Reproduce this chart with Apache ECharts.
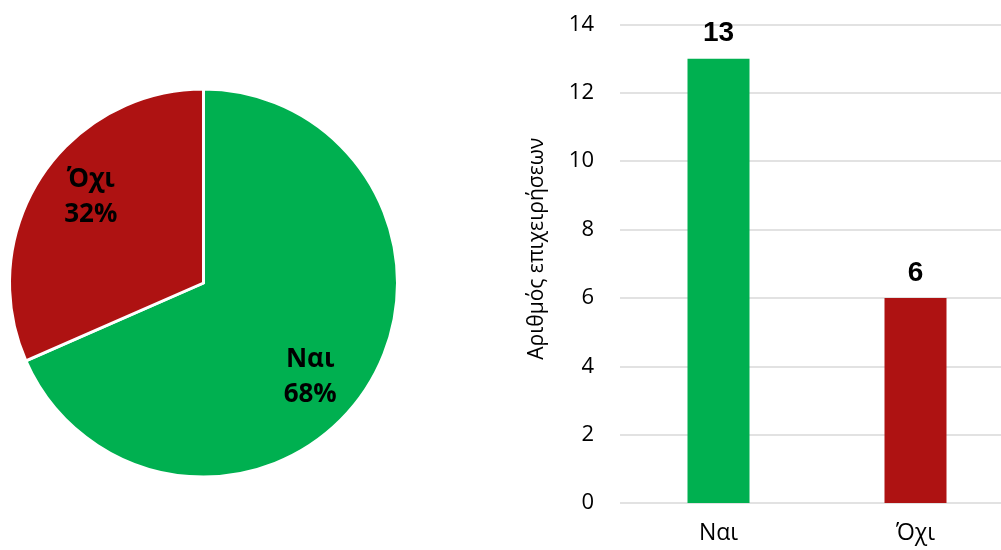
<!DOCTYPE html>
<html>
<head>
<meta charset="utf-8">
<script src="https://cdn.jsdelivr.net/npm/echarts@6/dist/echarts.min.js"></script>
<style>
  html, body { margin: 0; padding: 0; background: #fff; overflow: hidden; }
  /* the plot area runs a little past the right edge of the page */
  #chart { width: 1020px; height: 550px; }
</style>
</head>
<body>
<div id="chart"></div>
<script>
// Answers and number of businesses per answer
const categories = ['Ναι', 'Όχι'];
const counts = [13, 6];
const colors = ['#00B050', '#AE1212'];
const yTicks = [0, 2, 4, 6, 8, 10, 12, 14];
const yAxisTitle = 'Αριθμός επιχειρήσεων';

// Nudges for the in-slice labels
const pieLabelOffsets = [[23, 39], [-29, -31]];

const chart = echarts.init(document.getElementById('chart'), null, { renderer: 'canvas' });

const pieData = categories.map((name, i) => ({
  name: name,
  value: counts[i],
  itemStyle: { color: colors[i] },
  label: { offset: pieLabelOffsets[i] }
}));

const barData = counts.map((v, i) => ({
  value: v,
  itemStyle: { color: colors[i] }
}));

chart.setOption({
  backgroundColor: '#ffffff',
  animation: false,
  grid: { left: 620, top: 24.5, width: 394, height: 478.5, containLabel: false },
  xAxis: {
    type: 'category',
    data: categories,
    axisLine: { show: false },
    axisTick: { show: false },
    axisLabel: { color: '#000', fontFamily: 'Open Sans', fontSize: 23, margin: 19 }
  },
  yAxis: {
    type: 'value',
    min: yTicks[0],
    max: yTicks[yTicks.length - 1],
    interval: yTicks[1] - yTicks[0],
    name: yAxisTitle,
    nameLocation: 'middle',
    nameRotate: 90,
    nameGap: 72,
    // extra left padding lifts the rotated title a little above the plot's middle
    nameTextStyle: { color: '#000', fontFamily: 'Open Sans', fontSize: 21, padding: [0, 0, 0, 30] },
    axisLine: { show: false },
    axisTick: { show: false },
    axisLabel: { color: '#000', fontFamily: 'Open Sans', fontSize: 22, margin: 26 },
    splitLine: { lineStyle: { color: '#D9D9D9', width: 1.5 } }
  },
  series: [
    {
      type: 'pie',
      center: [203.5, 283],
      radius: 194,
      startAngle: 90,
      clockwise: true,
      data: pieData,
      itemStyle: { borderColor: '#fff', borderWidth: 3 },
      label: {
        show: true,
        position: 'inside',
        formatter: p => p.name + '\n' + Math.round(p.percent) + '%',
        color: '#000',
        fontFamily: 'Open Sans',
        fontWeight: 'bold',
        fontSize: 26,
        lineHeight: 35
      },
      labelLine: { show: false },
      emphasis: { disabled: true }
    },
    {
      type: 'bar',
      data: barData,
      barWidth: 62,
      label: {
        show: true,
        position: 'top',
        distance: 11,
        color: '#000',
        fontFamily: 'Liberation Sans',
        fontWeight: 'bold',
        fontSize: 28
      },
      emphasis: { disabled: true }
    }
  ]
});
</script>
</body>
</html>
